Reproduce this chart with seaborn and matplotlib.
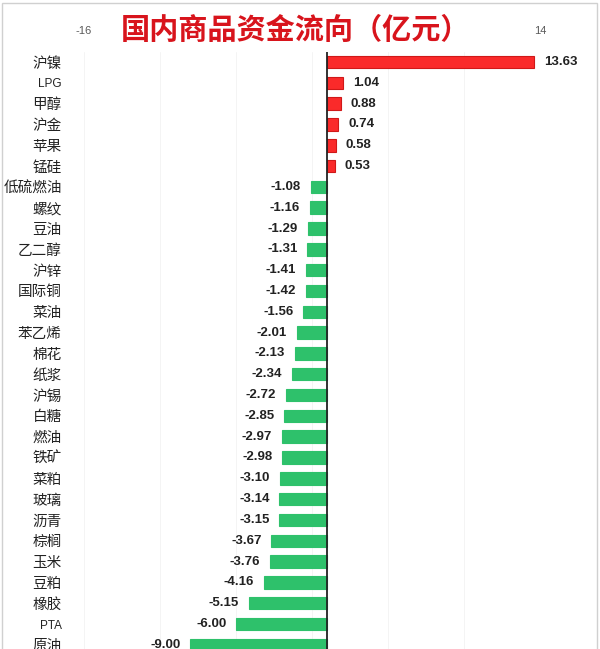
import matplotlib
matplotlib.use("Agg")
import matplotlib.pyplot as plt
import seaborn as sns
import pandas as pd
from matplotlib.patches import Rectangle

categories = ["沪镍", "LPG", "甲醇", "沪金", "苹果", "锰硅", "低硫燃油", "螺纹", "豆油", "乙二醇",
              "沪锌", "国际铜", "菜油", "苯乙烯", "棉花", "纸浆", "沪锡", "白糖", "燃油", "铁矿",
              "菜粕", "玻璃", "沥青", "棕榈", "玉米", "豆粕", "橡胶", "PTA", "原油"]
values = [13.63, 1.04, 0.88, 0.74, 0.58, 0.53, -1.08, -1.16, -1.29, -1.31,
          -1.41, -1.42, -1.56, -2.01, -2.13, -2.34, -2.72, -2.85, -2.97, -2.98,
          -3.10, -3.14, -3.15, -3.67, -3.76, -4.16, -5.15, -6.00, -9.00]
x_ticks = [-16, 14]
title = "国内商品资金流向（亿元）"

sns.set_theme(style="white")
plt.rcParams['font.family'] = ['Noto Sans CJK SC', 'DejaVu Sans']

df = pd.DataFrame({"cat": categories, "val": values})
colors = ["#fa2a2a" if v > 0 else "#2ec16b" for v in values]
edges = ["#d01818" if v > 0 else "#2ec16b" for v in values]

fig = plt.figure(figsize=(6.0, 6.49), dpi=100)
ax = fig.add_axes([84/600, 0.0, (540-84)/600, (649-51.6)/649])

sns.barplot(data=df, x="val", y="cat", hue="cat", palette=colors, legend=False,
            orient="h", width=0.6, ax=ax, linewidth=0, saturation=1)
for p, ec in zip(ax.patches, edges):
    p.set_edgecolor(ec)
    p.set_linewidth(0.8)

ax.set_xlim(-16, 14)
ax.set_ylim(28.2, -0.5)

# faint gridlines every 5 starting at -16
for g in [-16, -11, -6, -1, 4, 9, 14]:
    ax.axvline(g, color="#f4f4f4", lw=0.7, zorder=0)
ax.axvline(0, color="#222222", lw=1.3, zorder=5)

ax.set_xlabel("")
ax.set_ylabel("")
ax.xaxis.tick_top()
ax.set_xticks(x_ticks)
ax.set_xticklabels([str(t) for t in x_ticks], fontsize=8, color="#595959",
                   fontfamily=['Liberation Sans', 'DejaVu Sans'])
ax.tick_params(axis="x", length=0, pad=11)
ax.tick_params(axis="y", length=0, pad=16, labelsize=10.5, labelcolor="#222222")
for lab in ax.get_yticklabels():
    if lab.get_text() in ("LPG", "PTA"):
        lab.set_fontsize(8.5)
        lab.set_fontfamily(['Liberation Sans', 'DejaVu Sans'])
for s in ax.spines.values():
    s.set_visible(False)

for i, v in enumerate(values):
    if v > 0:
        ax.annotate(f"{v:.2f}", (v, i), xytext=(7, 0), textcoords="offset points",
                    ha="left", va="center", fontsize=9.5, fontweight="bold", color="#222222",
                    fontfamily=['Liberation Sans', 'DejaVu Sans'])
    else:
        ax.annotate(f"{v:.2f}", (v, i), xytext=(-7, 0), textcoords="offset points",
                    ha="right", va="center", fontsize=9.5, fontweight="bold", color="#222222",
                    fontfamily=['Liberation Sans', 'DejaVu Sans'])

fig.text(296/600, 1 - 30/649, title, ha="center", va="center", fontsize=21,
         color="#d8141c", fontweight="bold")

fig.patches.append(Rectangle((0.003, -0.01), 0.992, 1.005, transform=fig.transFigure,
                             fill=False, edgecolor="#d0d0d0", lw=1.0))

fig.savefig("out.png", dpi=100)
